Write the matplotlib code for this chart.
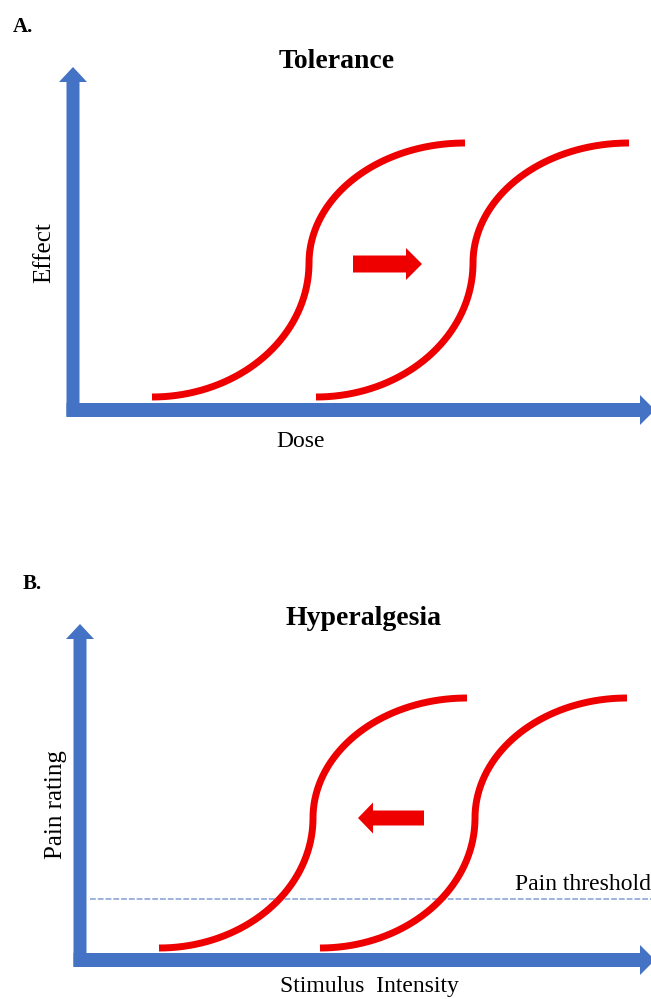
import matplotlib.pyplot as plt
import numpy as np
from matplotlib.patches import FancyArrow

plt.rcParams['font.family'] = ['Liberation Serif', 'DejaVu Serif']

BLUE = "#4472c4"
RED = "#ee0000"

# panel A (tolerance) - canvas in pixel units, y grows downward
tol_start_x = [152, 316]
tol_mid_x = [309, 473]
tol_end_x = [465, 629]
tol_y = (397, 263, 143)  # bottom, inflection, top

# panel B (hyperalgesia)
hyp_start_x = [159, 320]
hyp_mid_x = [313, 475]
hyp_end_x = [467, 627]
hyp_y = (948, 818, 698)
threshold_y = 899


def s_curve(x0, xm, x1, y0, ym, y1, n=80):
    # two quarter ellipses joined at a vertical inflection
    t = np.linspace(0, np.pi / 2, n)
    xa = x0 + (xm - x0) * np.sin(t)
    ya = ym + (y0 - ym) * np.cos(t)
    xb = x1 - (x1 - xm) * np.cos(t)
    yb = ym - (ym - y1) * np.sin(t)
    return np.r_[xa, xb], np.r_[ya, yb]


fig = plt.figure(figsize=(6.51, 9.99), dpi=100)
ax = fig.add_axes([0, 0, 1, 1])
ax.set_xlim(0, 651)
ax.set_ylim(999, 0)
ax.axis("off")


def axes_arrows(x0, y0, top, right, w):
    ax.add_patch(FancyArrow(x0, y0 + w / 2, 0, top - y0 - w / 2, width=w, head_width=28,
                            head_length=15, length_includes_head=True, color=BLUE, lw=0))
    ax.add_patch(FancyArrow(x0 - w / 2, y0, right - x0 + w / 2, 0, width=w + 1, head_width=30,
                            head_length=15, length_includes_head=True, color=BLUE, lw=0))


# ---- A. Tolerance ----
axes_arrows(73, 410, 67, 655, 13)
for a, m, b in zip(tol_start_x, tol_mid_x, tol_end_x):
    xs, ys = s_curve(a, m, b, *tol_y)
    ax.plot(xs, ys, color=RED, lw=5, solid_capstyle="butt")
ax.add_patch(FancyArrow(353, 264, 69, 0, width=17, head_width=32, head_length=16,
                        length_includes_head=True, color=RED, lw=0))

ax.text(13, 32, "A.", fontsize=15, fontweight="bold", ha="left", va="baseline")
ax.text(337, 68, "Tolerance", fontsize=20, fontweight="bold", ha="center", va="baseline")
ax.text(44, 253, "Effect", fontsize=18, rotation=90, ha="center", va="center")
ax.text(301, 447, "Dose", fontsize=17, ha="center", va="baseline")

# ---- B. Hyperalgesia ----
ax.plot([90, 651], [threshold_y, threshold_y], color="#9db3e0", lw=1.4, ls=(0, (3, 1)))
axes_arrows(80, 960, 624, 655, 13)
for a, m, b in zip(hyp_start_x, hyp_mid_x, hyp_end_x):
    xs, ys = s_curve(a, m, b, *hyp_y)
    ax.plot(xs, ys, color=RED, lw=5, solid_capstyle="butt")
ax.add_patch(FancyArrow(424, 818, -66, 0, width=15, head_width=31, head_length=15,
                        length_includes_head=True, color=RED, lw=0))

ax.text(23, 589, "B.", fontsize=15, fontweight="bold", ha="left", va="baseline")
ax.text(363, 625, "Hyperalgesia", fontsize=20, fontweight="bold", ha="center", va="baseline")
ax.text(56, 805, "Pain rating", fontsize=18, rotation=90, ha="center", va="center")
ax.text(515, 890, "Pain threshold", fontsize=17, ha="left", va="baseline")
ax.text(369, 992, "Stimulus  Intensity", fontsize=17, ha="center", va="baseline")

fig.savefig("out.png", dpi=100)
